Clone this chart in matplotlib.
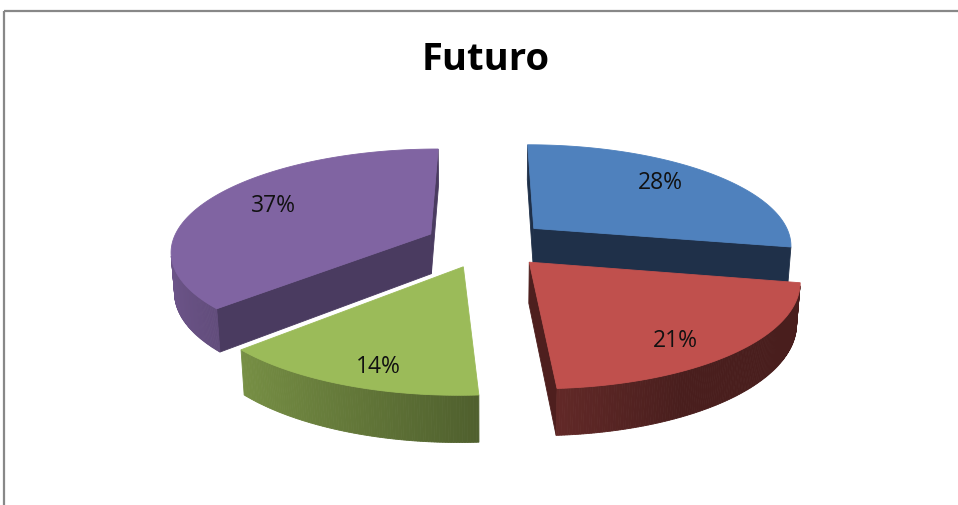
import numpy as np
import matplotlib
matplotlib.use("Agg")
import matplotlib.pyplot as plt
from matplotlib.patches import Polygon
from matplotlib.colors import to_rgb

# ---- data -------------------------------------------------------------
title = "Futuro"
shares = [28, 21, 14, 37]
slice_labels = [f"{v}%" for v in shares]

# ---- style ------------------------------------------------------------
top_colors = ["#4F81BD", "#C0504D", "#9BBB59", "#8064A2"]
cut_colors = ["#1F3049", "#4E1F1E", "#5A7033", "#4A3B60"]

W, H = 958, 505
fig = plt.figure(figsize=(W / 100, H / 100), dpi=100)
ax = fig.add_axes([0, 0, 1, 1])
ax.set_xlim(0, W)
ax.set_ylim(H, 0)
ax.axis("off")

# ---- 3-D pie geometry (unit radius) and perspective camera -------------
thick = 0.17          # slab thickness
explode = 0.24        # outward shift of every slice
dist = 6.0            # camera distance
elev = np.radians(22.9)
focal = 1554.0
cx, cy = 487.0, 243.5
sa, ca = np.sin(elev), np.cos(elev)
cam = np.array([0.0, dist * sa, dist * ca])


def project(p):
    x, y, z = p
    vy, vz = y - dist * sa, z - dist * ca
    depth = -(vy * sa + vz * ca)
    yc = vy * ca - vz * sa
    return cx + focal * x / depth, cy - focal * yc / depth


def rim(theta, off, y):
    # theta measured clockwise from the far side (12 o'clock)
    return np.array([off[0] + np.sin(theta), y, off[1] - np.cos(theta)])


def visible(pt, normal):
    return np.dot(cam - pt, normal) > 0


def shade(color, f):
    r, g, b = to_rgb(color)
    return (r * f, g * f, b * f)


total = float(sum(shares))
bounds = np.cumsum([0.0] + [v / total * 2 * np.pi for v in shares])

slices = []
for i in range(len(shares)):
    t1, t2 = bounds[i], bounds[i + 1]
    mid = 0.5 * (t1 + t2)
    off = (explode * np.sin(mid), -explode * np.cos(mid))
    slices.append((i, t1, t2, mid, off))

# paint far slices first
slices.sort(key=lambda s: s[4][1] - np.cos(s[3]) * 0.5)

for i, t1, t2, mid, off in slices:
    apex_t = np.array([off[0], 0.0, off[1]])
    apex_b = np.array([off[0], -thick, off[1]])
    n = max(int(np.degrees(t2 - t1)) * 2, 4)
    ts = np.linspace(t1, t2, n)

    # radial cut faces
    for t, sgn in ((t1, -1.0), (t2, 1.0)):
        normal = sgn * np.array([np.cos(t), 0.0, np.sin(t)])
        pts3 = [apex_t, rim(t, off, 0.0), rim(t, off, -thick), apex_b]
        ctr = np.mean(pts3, axis=0)
        if visible(ctr, normal):
            poly = [project(p) for p in pts3]
            ax.add_patch(Polygon(poly, closed=True, facecolor=cut_colors[i],
                                 edgecolor=cut_colors[i], lw=0.6, zorder=2))

    # curved outer wall
    for a, b in zip(ts[:-1], ts[1:]):
        m = 0.5 * (a + b)
        normal = np.array([np.sin(m), 0.0, -np.cos(m)])
        ctr = rim(m, off, -thick / 2)
        if not visible(ctr, normal):
            continue
        f = np.clip(0.53 - 0.32 * normal[0], 0.38, 0.87)
        c = shade(top_colors[i], f)
        pts3 = [rim(a, off, 0.0), rim(b, off, 0.0), rim(b, off, -thick), rim(a, off, -thick)]
        poly = [project(p) for p in pts3]
        ax.add_patch(Polygon(poly, closed=True, facecolor=c, edgecolor=c,
                             lw=0.6, zorder=2))

    # top face
    poly = [project(apex_t)] + [project(rim(t, off, 0.0)) for t in ts]
    ax.add_patch(Polygon(poly, closed=True, facecolor=top_colors[i],
                         edgecolor=top_colors[i], lw=0.6, zorder=2))

    # value label on the top face
    kx, kz = 0.72, 0.85
    lp = np.array([off[0] + kx * np.sin(mid), 0.0, off[1] - kz * np.cos(mid)])
    lx, ly = project(lp)
    ax.text(lx, ly, slice_labels[i], ha="center", va="center_baseline",
            fontsize=16.5, family="Open Sans", color="#111111", zorder=5)

# title
ax.text(486, 70, title, ha="center", va="baseline", fontsize=27.5,
        family="Open Sans", fontweight="bold", color="#000000", zorder=5)

# chart frame (top and left edges)
ax.plot([4.5, W], [10.5, 10.5], color="#888888", lw=1.6, zorder=6,
        solid_capstyle="butt")
ax.plot([4.5, 4.5], [10.5, H], color="#888888", lw=1.6, zorder=6,
        solid_capstyle="butt")

fig.savefig("out.png", dpi=100, facecolor="white")
